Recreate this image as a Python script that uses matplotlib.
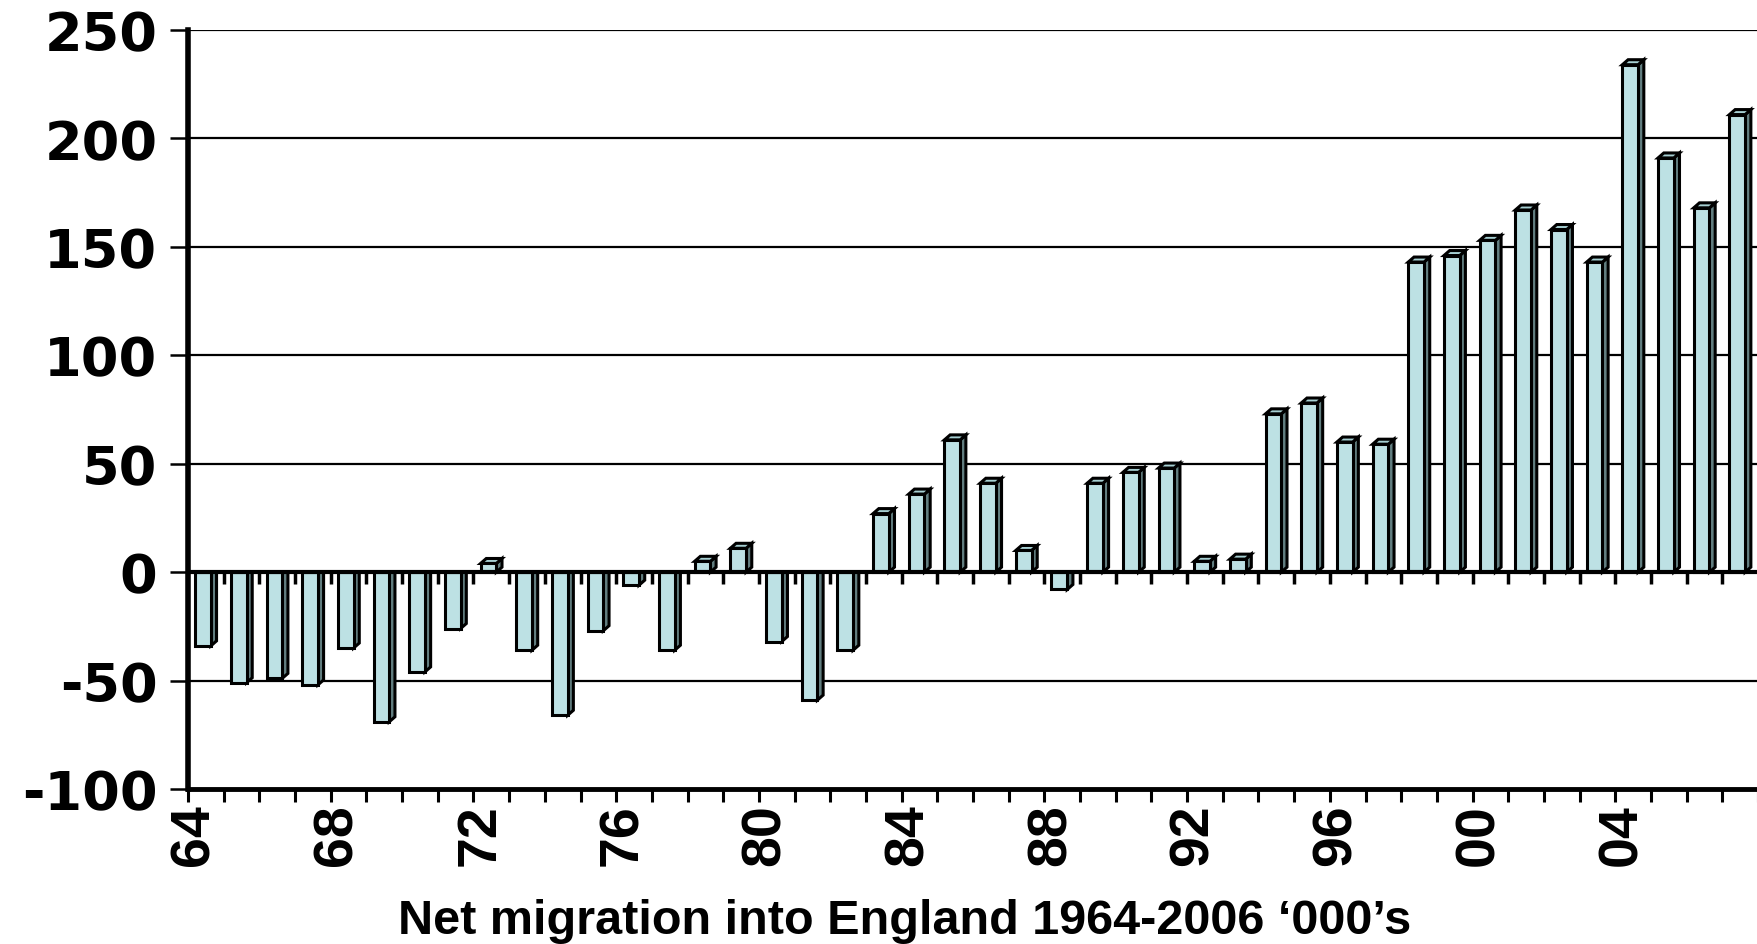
import numpy as np
import matplotlib
matplotlib.use("Agg")
from matplotlib import pyplot as plt
from matplotlib.patches import Polygon
from matplotlib.transforms import ScaledTranslation

# net migration into England, thousands, one bar per year from 1964
years = list(range(1964, 2008))
net_migration = [-34, -51, -49, -52, -35, -69, -46, -26, 4, -36,
                 -66, -27, -6, -36, 5, 11, -32, -59, -36, 27,
                 36, 61, 41, 10, -8, 41, 46, 48, 5, 6,
                 73, 78, 60, 59, 143, 146, 153, 167, 158, 143,
                 234, 191, 168, 211]
tick_labels = ["64", "68", "72", "76", "80", "84", "88", "92", "96", "00", "04"]
y_ticks = [-100, -50, 0, 50, 100, 150, 200, 250]
title = "Net migration into England 1964-2006 \u2018000\u2019s"

front_col = "#bde1e4"
side_col = "#627e80"
top_col = "#a6cfd2"

W, H = 1758, 945
fig = plt.figure(figsize=(W / 100, H / 100), dpi=100)
ax = fig.add_axes([188 / W, 1 - 790 / H, (W - 188) / W, (790 - 31) / H])

n = len(years)
ax.set_xlim(0, n)
ax.set_ylim(-100, 250)

# grid on the back wall
for v in y_ticks:
    if v in (-100, 0):
        continue
    ax.axhline(v, color="black", lw=1.6, zorder=1)

# pseudo-3D columns: front face, right side, top face
x0 = np.arange(n) + 0.2
bw = 0.44
dx, dy = 0.16, 2.3
ax.bar(x0, net_migration, width=bw, align="edge", color=front_col,
       edgecolor="black", linewidth=2.2, zorder=3)
for xi, v in zip(x0, net_migration):
    xr = xi + bw
    if v > 0:
        side_pts = [(xr, 0), (xr + dx, dy), (xr + dx, v + dy), (xr, v)]
    else:
        # upper part of a downward column is hidden behind the zero line
        side_pts = [(xr, 0), (xr + dx, 0), (xr + dx, v + dy), (xr, v)]
    ax.add_patch(Polygon(side_pts, closed=True, facecolor=side_col,
                         edgecolor="black", linewidth=2.2, zorder=2.9))
    if v > 0:
        top = Polygon([(xi, v), (xi + dx, v + dy), (xr + dx, v + dy), (xr, v)],
                      closed=True, facecolor=top_col, edgecolor="black",
                      linewidth=2.2, zorder=2.9)
        ax.add_patch(top)

# zero line with its own short ticks
ax.axhline(0, color="black", lw=3, zorder=4)
ax.vlines(np.arange(1, n), -5.5, 0, color="black", lw=2.5, zorder=4)

ax.spines["top"].set_visible(False)
ax.spines["right"].set_visible(False)
ax.spines["left"].set_linewidth(4)
ax.spines["bottom"].set_linewidth(3.5)

ax.set_yticks(y_ticks)
ax.set_yticklabels([str(v) for v in y_ticks])
ax.tick_params(axis="y", length=13, width=1.8, pad=9,
               labelsize=39)
for lab in ax.get_yticklabels():
    lab.set_fontfamily("DejaVu Sans")
    lab.set_fontweight("bold")

ax.set_xticks(np.arange(0, n, 4))
ax.set_xticks(np.arange(0, n + 1), minor=True)
ax.set_xticklabels(tick_labels, rotation=90, fontsize=40,
                   fontweight="bold", fontfamily="Liberation Sans")
ax.tick_params(axis="x", which="both", length=9, width=2.2, pad=1)
# nudge year labels slightly right
shift = ScaledTranslation(5 / 72, 0, fig.dpi_scale_trans)
for lab in ax.get_xticklabels():
    lab.set_transform(lab.get_transform() + shift)

fig.text(905 / W, 1 - 934 / H, title, ha="center", va="baseline",
         fontsize=35, fontweight="bold", family="Liberation Sans")

fig.savefig("out.png", dpi=100)
plt.close(fig)
